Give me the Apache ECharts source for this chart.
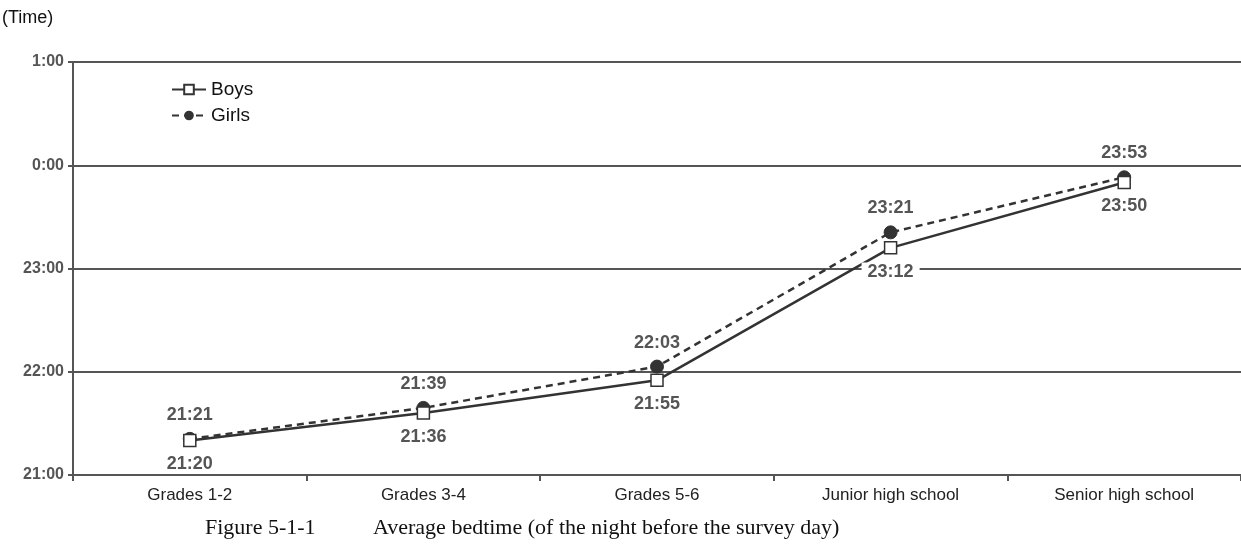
<!DOCTYPE html>
<html>
<head>
<meta charset="utf-8">
<script src="https://cdn.jsdelivr.net/npm/echarts@6/dist/echarts.min.js"></script>
<style>
  html, body { margin: 0; padding: 0; background: #fff; }
  #chart { width: 1241px; height: 552px; }
</style>
</head>
<body>
<div id="chart"></div>
<script>
// minutes after 21:00
var categories = ["Grades 1-2", "Grades 3-4", "Grades 5-6", "Junior high school", "Senior high school"];
var boys = [20, 36, 55, 132, 170];
var girls = [21, 39, 63, 141, 173];
var yTicks = ["21:00", "22:00", "23:00", "0:00", "1:00"];

function toClock(v) {
  var h = (21 + Math.floor(v / 60)) % 24;
  var m = v % 60;
  return h + ":" + (m < 10 ? "0" + m : m);
}

var chart = echarts.init(document.getElementById("chart"));
var font = "Liberation Sans, Arial, sans-serif";

var option = {
  animation: false,
  backgroundColor: "#fff",
  grid: { left: 73, right: 0, top: 62, bottom: 77 },
  legend: {
    left: 166,
    top: 75,
    orient: "vertical",
    itemWidth: 34,
    itemHeight: 12,
    itemGap: 7,
    textStyle: { fontFamily: font, fontSize: 19, color: "#111", padding: [-7, 0, 0, 0] },
    data: ["Boys", "Girls"]
  },
  xAxis: {
    type: "category",
    data: categories,
    boundaryGap: true,
    z: 5,
    axisLine: { lineStyle: { color: "#555", width: 2 } },
    axisTick: { show: true, length: 6, lineStyle: { color: "#555", width: 2 } },
    axisLabel: { fontFamily: font, fontSize: 17, color: "#222", margin: 12 }
  },
  yAxis: {
    type: "value",
    min: 0,
    max: 240,
    interval: 60,
    axisLine: { show: true, lineStyle: { color: "#555", width: 2 } },
    axisTick: { show: true, length: 5, lineStyle: { color: "#555", width: 2 } },
    splitLine: { lineStyle: { color: "#555", width: 2 } },
    axisLabel: {
      fontFamily: font, fontSize: 16, fontWeight: "bold", color: "#555", margin: 9,
      formatter: function (v) { return yTicks[v / 60]; }
    }
  },
  series: [
    {
      name: "Boys",
      type: "line",
      data: boys,
      symbol: "rect",
      symbolSize: 12,
      z: 3,
      lineStyle: { color: "#333", width: 2.5 },
      itemStyle: { color: "#fff", borderColor: "#333", borderWidth: 1.5 },
      label: {
        show: true,
        position: "bottom",
        distance: 8,
        fontFamily: font,
        fontSize: 18,
        fontWeight: "bold",
        color: "#555",
        backgroundColor: "#fff",
        padding: [0, 6],
        formatter: function (p) { return toClock(p.value); }
      }
    },
    {
      name: "Girls",
      type: "line",
      data: girls,
      symbol: "circle",
      symbolSize: 13,
      z: 2,
      lineStyle: { color: "#333", width: 2.5, type: [7, 5] },
      itemStyle: { color: "#333", borderColor: "#333" },
      label: {
        show: true,
        position: "top",
        distance: 8,
        fontFamily: font,
        fontSize: 18,
        fontWeight: "bold",
        color: "#555",
        formatter: function (p) { return toClock(p.value); }
      }
    }
  ],
  graphic: [
    {
      type: "text", left: 2, top: 9,
      style: { text: "(Time)", fontFamily: font, fontSize: 18, fill: "#111" }
    },
    {
      type: "text", left: 205, top: 517,
      style: { text: "Figure 5-1-1", fontFamily: "Liberation Serif, Times New Roman, serif", fontSize: 22, fill: "#111" }
    },
    {
      type: "text", left: 373, top: 517,
      style: { text: "Average bedtime (of the night before the survey day)", fontFamily: "Liberation Serif, Times New Roman, serif", fontSize: 22, fill: "#111" }
    }
  ]
};

chart.setOption(option);
</script>
</body>
</html>
